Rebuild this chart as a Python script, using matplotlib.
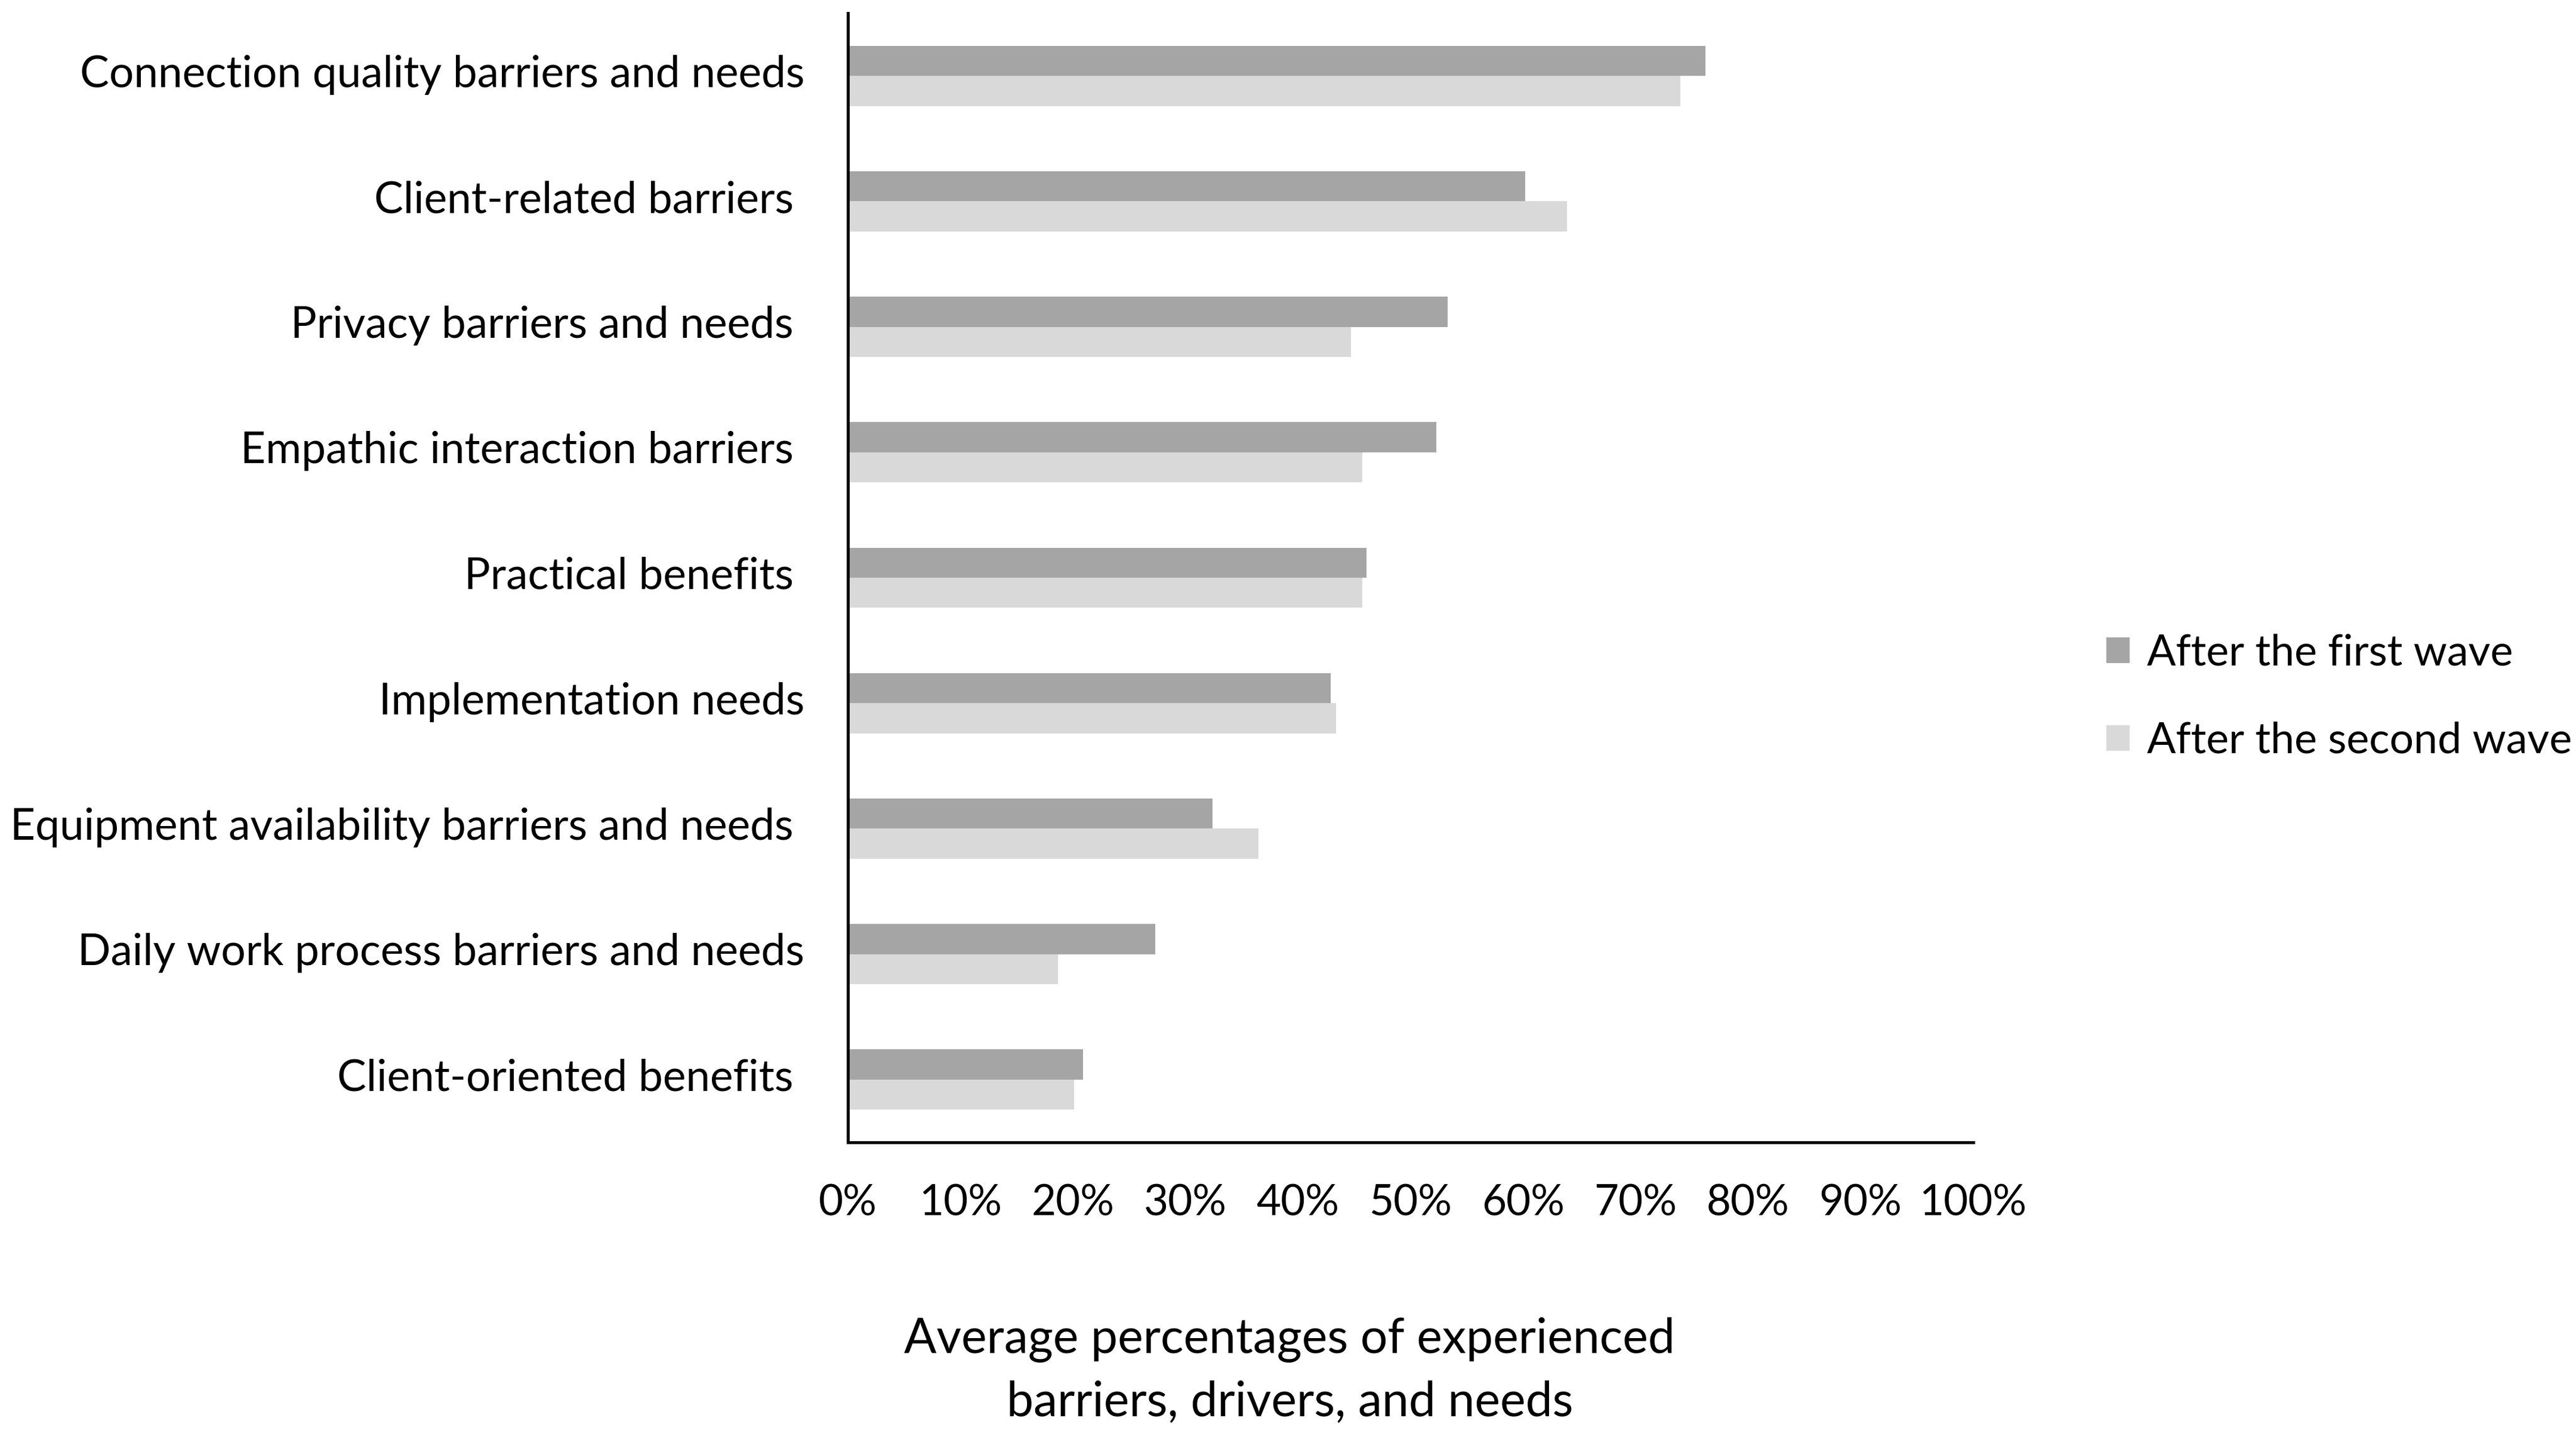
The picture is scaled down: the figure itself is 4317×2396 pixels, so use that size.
import matplotlib
matplotlib.use("Agg")
import matplotlib.pyplot as plt
from matplotlib.patches import Patch
from matplotlib.transforms import ScaledTranslation
import numpy as np

categories = [
    "Connection quality barriers and needs",
    "Client-related barriers ",
    "Privacy barriers and needs ",
    "Empathic interaction barriers ",
    "Practical benefits ",
    "Implementation needs",
    "Equipment availability barriers and needs ",
    "Daily work process barriers and needs",
    "Client-oriented benefits ",
]
first_wave = [76.2, 60.2, 53.3, 52.3, 46.1, 42.9, 32.4, 27.3, 20.9]
second_wave = [74.0, 63.9, 44.7, 45.7, 45.7, 43.4, 36.5, 18.7, 20.1]
series_names = ["After the first wave", "After the second wave"]
xticks = list(range(0, 101, 10))
xtick_labels = [f"{t}%" for t in xticks]

plt.rcParams["font.family"] = ["Lato", "DejaVu Sans"]

fig = plt.figure(figsize=(4317 / 200, 2396 / 200), dpi=200)
ax = fig.add_axes([516 / 1568, 1 - 695 / 870, (1201 - 516) / 1568, (695 - 8) / 870])

y = np.arange(len(categories))
h = 0.24
c1, c2 = "#A5A5A5", "#D9D9D9"
ax.barh(y - h / 2, first_wave, height=h, color=c1, label=series_names[0])
ax.barh(y + h / 2, second_wave, height=h, color=c2, label=series_names[1])

ax.set_ylim(len(categories) - 0.5, -0.5)
ax.set_xlim(0, 100)
ax.set_yticks(y)
ax.set_yticklabels(categories, fontsize=26.3)
ax.set_xticks(xticks)
ax.set_xticklabels(xtick_labels, fontsize=25.5)
ax.tick_params(axis="y", length=0, pad=26)
ax.tick_params(axis="x", length=0, pad=25)
for lab in ax.get_yticklabels():
    lab.set_transform(lab.get_transform() + ScaledTranslation(0, 3 / 72, fig.dpi_scale_trans))
for s in ["top", "right"]:
    ax.spines[s].set_visible(False)
for s in ["left", "bottom"]:
    ax.spines[s].set_linewidth(1.8)
    ax.spines[s].set_color("black")

fig.text(785 / 1568, 1 - 834 / 870,
         "Average percentages of experienced\nbarriers, drivers, and needs",
         ha="center", va="center", fontsize=29, linespacing=1.5)

handles = [Patch(facecolor=c1), Patch(facecolor=c2)]
fig.legend(handles, series_names, loc="center left",
           bbox_to_anchor=(1282 / 1568, 1 - 424 / 870), frameon=False,
           fontsize=25.8, handlelength=0.55, handleheight=0.55, handletextpad=0.4,
           labelspacing=1.15, borderaxespad=0, borderpad=0)

fig.savefig("out.png", dpi=200, facecolor="white")
